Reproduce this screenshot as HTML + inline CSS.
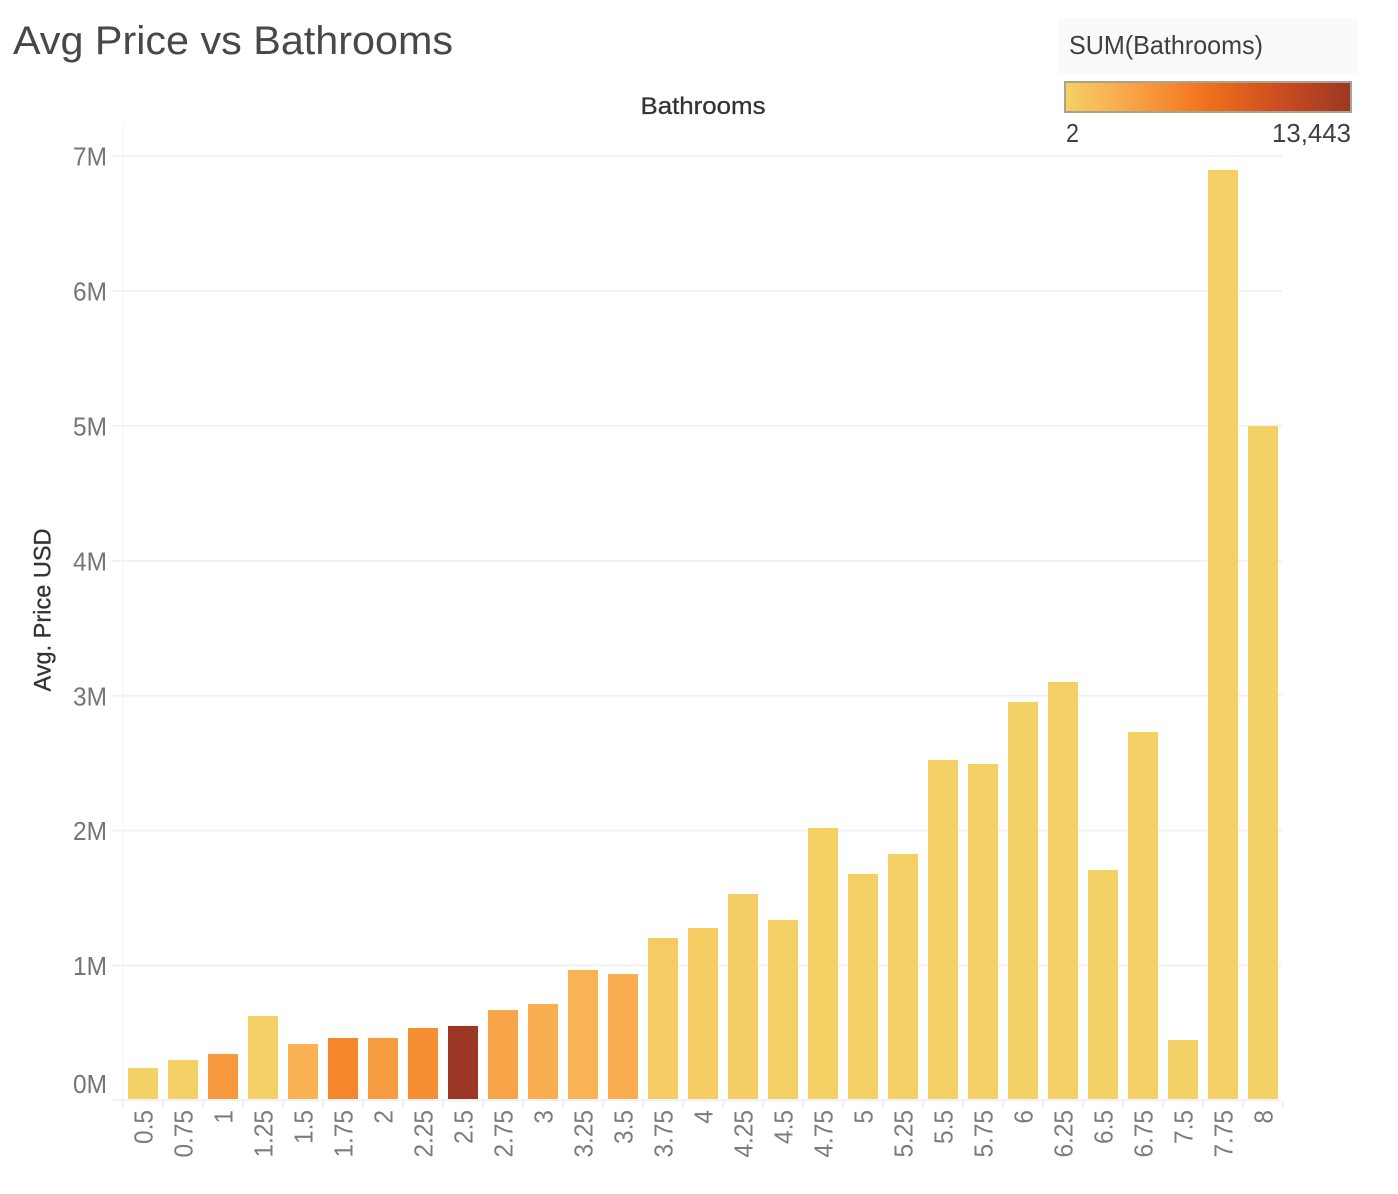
<!DOCTYPE html>
<html lang="en">
<head>
<meta charset="utf-8">
<title>Avg Price vs Bathrooms</title>
<style>
html,body{margin:0;padding:0;background:#fff;width:1398px;height:1194px;overflow:hidden}
svg{display:block}
text{font-family:"Liberation Sans",sans-serif}
</style>
</head>
<body>
<svg id="chart" width="1398" height="1194" viewBox="0 0 1398 1194" xmlns="http://www.w3.org/2000/svg">
  <defs>
    <linearGradient id="legendGradient" x1="0" x2="1" y1="0" y2="0">
      <stop offset="0" stop-color="#f4d166"/>
      <stop offset="0.15" stop-color="#f9b355"/>
      <stop offset="0.3" stop-color="#f7963b"/>
      <stop offset="0.4" stop-color="#f5842a"/>
      <stop offset="0.5" stop-color="#ef701b"/>
      <stop offset="0.75" stop-color="#cb4d20"/>
      <stop offset="1" stop-color="#9c3725"/>
    </linearGradient>
  </defs>
  <text x="13" y="54" font-size="40" fill="#484848" textLength="440" lengthAdjust="spacingAndGlyphs">Avg Price vs Bathrooms</text>
  <g id="grid"></g>
  <line x1="123" x2="123" y1="124" y2="1101" stroke="#f3f3f3" stroke-width="1"/>
  <g id="bars"></g>
  <g id="xlabels"></g>
  <g id="ylabels"></g>
  <text x="703" y="114" font-size="24" fill="#333" stroke="#333" stroke-width="0.3" text-anchor="middle" textLength="125" lengthAdjust="spacingAndGlyphs">Bathrooms</text>
  <text transform="translate(50.5 610) rotate(-90)" font-size="24" fill="#333" stroke="#333" stroke-width="0.3" text-anchor="middle" textLength="163" lengthAdjust="spacingAndGlyphs">Avg. Price USD</text>
  <g>
    <rect x="1059" y="18" width="298" height="56" fill="#fafafa"/>
    <text x="1069" y="54" font-size="26" fill="#3f3f3f" textLength="194" lengthAdjust="spacingAndGlyphs">SUM(Bathrooms)</text>
    <rect x="1065" y="82" width="286" height="30" fill="url(#legendGradient)" stroke="#a8a290" stroke-width="2"/>
    <text x="1066" y="142" font-size="26" fill="#3f3f3f" textLength="13" lengthAdjust="spacingAndGlyphs">2</text>
    <text x="1351" y="142" font-size="26" fill="#3f3f3f" text-anchor="end" textLength="79" lengthAdjust="spacingAndGlyphs">13,443</text>
  </g>
</svg>
<script>
const categories = ["0.5","0.75","1","1.25","1.5","1.75","2","2.25","2.5","2.75","3","3.25","3.5","3.75","4","4.25","4.5","4.75","5","5.25","5.5","5.75","6","6.25","6.5","6.75","7.5","7.75","8"];
const avgPriceMillions = [0.239,0.299,0.343,0.625,0.417,0.462,0.462,0.536,0.551,0.669,0.714,0.966,0.936,1.203,1.277,1.529,1.337,2.019,1.678,1.826,2.523,2.493,2.953,3.101,1.707,2.730,0.447,6.897,4.998];
const sumBathrooms = [20,60,3900,10,2150,5240,3630,4570,13443,2960,2290,2020,2420,330,300,200,160,90,70,60,45,35,30,25,15,15,8,8,8];
const yTickValues = [0,1,2,3,4,5,6,7];
const yTickLabels = ["0M","1M","2M","3M","4M","5M","6M","7M"];
const colorStopPositions = [0,0.15,0.3,0.4,0.5,0.75,1];
const colorStopValues = [[244,209,102],[249,179,85],[247,150,59],[245,132,42],[239,112,27],[203,77,32],[156,55,37]];
const sumMin = 2;
const sumMax = 13443;

const NS = "http://www.w3.org/2000/svg";
function yScale(v){ return 1100.3 - v * 134.9; }
function xScale(i){ return 123 + i * 40; }
function colorScale(s){
  const t = (s - sumMin) / (sumMax - sumMin);
  let k = 0;
  while (k < colorStopPositions.length - 2 && t > colorStopPositions[k + 1]) k++;
  const f = Math.min(1, Math.max(0, (t - colorStopPositions[k]) / (colorStopPositions[k + 1] - colorStopPositions[k])));
  const c = colorStopValues[k].map((a, j) => Math.round(a + (colorStopValues[k + 1][j] - a) * f));
  return "rgb(" + c.join(",") + ")";
}
function make(tag, attrs, parent){
  const el = document.createElementNS(NS, tag);
  for (const key in attrs) el.setAttribute(key, attrs[key]);
  parent.appendChild(el);
  return el;
}

const grid = document.getElementById("grid");
const bars = document.getElementById("bars");
const xlabels = document.getElementById("xlabels");
const ylabels = document.getElementById("ylabels");

yTickValues.forEach(function(v, i){
  const y = yScale(v);
  const line = make("line", {x1:112, x2:1282, y1:y, y2:y, stroke:"#f1f1f1", "stroke-width":2}, grid);
  
  
  const labelY = v === 0 ? y - 7.5 : y + 9.7;
  const label = make("text", {transform:"translate(107 " + labelY + ") scale(0.94 1)", "font-size":26, fill:"#757575", "text-anchor":"end"}, ylabels);
  
  
  label.textContent = yTickLabels[i];
});

categories.forEach(function(cat, i){
  const x = xScale(i);
  const top = yScale(avgPriceMillions[i]);
  const bar = make("rect", {x:x + 5, y:top, width:30, height:yScale(0) - 1.3 - top, fill:colorScale(sumBathrooms[i])}, bars);
  
  
  const tick = make("line", {x1:x, x2:x, y1:1101, y2:1108, stroke:"#f1f1f1", "stroke-width":2}, grid);
  
  
  const label = make("text", {transform:"translate(" + (x + 29.5) + " 1110) rotate(-90) scale(0.94 1)", "font-size":26, fill:"#7c7c7c", "text-anchor":"end"}, xlabels);
  
  
  label.textContent = cat;
});
const lastTick = make("line", {x1:xScale(categories.length), x2:xScale(categories.length), y1:1101, y2:1108, stroke:"#f1f1f1", "stroke-width":2}, grid);


</script>
</body>
</html>
